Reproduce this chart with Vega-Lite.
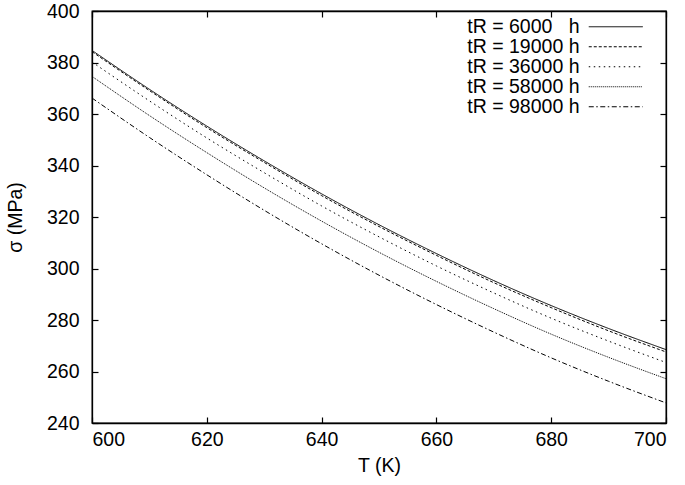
{
  "$schema": "https://vega.github.io/schema/vega-lite/v6.json",
  "width": 574,
  "height": 412,
  "autosize": {"type": "none"},
  "padding": {"left": 92, "top": 11, "right": 19, "bottom": 62},
  "background": "white",
  "config": {
    "font": "Liberation Sans",
    "view": {"stroke": "black", "strokeWidth": 1.3},
    "axis": {"grid": false, "labelFontSize": 19.5, "titleFontSize": 19.5, "labelColor": "black", "titleColor": "black", "titleFontWeight": "normal", "tickColor": "black", "domainColor": "black", "domainWidth": 1.3, "tickWidth": 1.2, "tickSize": -6}
  },
  "data": {"values": [
    {"T": 600, "sigma": 384.7, "t": "6000"}, {"T": 610, "sigma": 369.6, "t": "6000"}, {"T": 620, "sigma": 355.3, "t": "6000"}, {"T": 630, "sigma": 341.8, "t": "6000"}, {"T": 640, "sigma": 329.0, "t": "6000"}, {"T": 650, "sigma": 317.0, "t": "6000"}, {"T": 660, "sigma": 305.8, "t": "6000"}, {"T": 670, "sigma": 295.3, "t": "6000"}, {"T": 680, "sigma": 285.6, "t": "6000"}, {"T": 690, "sigma": 276.7, "t": "6000"}, {"T": 700, "sigma": 268.5, "t": "6000"},
    {"T": 600, "sigma": 384.2, "t": "19000"}, {"T": 610, "sigma": 369.1, "t": "19000"}, {"T": 620, "sigma": 354.7, "t": "19000"}, {"T": 630, "sigma": 341.2, "t": "19000"}, {"T": 640, "sigma": 328.3, "t": "19000"}, {"T": 650, "sigma": 316.3, "t": "19000"}, {"T": 660, "sigma": 305.1, "t": "19000"}, {"T": 670, "sigma": 294.5, "t": "19000"}, {"T": 680, "sigma": 284.8, "t": "19000"}, {"T": 690, "sigma": 275.8, "t": "19000"}, {"T": 700, "sigma": 267.6, "t": "19000"},
    {"T": 600, "sigma": 380.2, "t": "36000"}, {"T": 610, "sigma": 365.1, "t": "36000"}, {"T": 620, "sigma": 350.7, "t": "36000"}, {"T": 630, "sigma": 337.2, "t": "36000"}, {"T": 640, "sigma": 324.3, "t": "36000"}, {"T": 650, "sigma": 312.3, "t": "36000"}, {"T": 660, "sigma": 301.0, "t": "36000"}, {"T": 670, "sigma": 290.5, "t": "36000"}, {"T": 680, "sigma": 280.7, "t": "36000"}, {"T": 690, "sigma": 271.8, "t": "36000"}, {"T": 700, "sigma": 263.5, "t": "36000"},
    {"T": 600, "sigma": 374.6, "t": "58000"}, {"T": 610, "sigma": 359.4, "t": "58000"}, {"T": 620, "sigma": 345.0, "t": "58000"}, {"T": 630, "sigma": 331.3, "t": "58000"}, {"T": 640, "sigma": 318.4, "t": "58000"}, {"T": 650, "sigma": 306.3, "t": "58000"}, {"T": 660, "sigma": 295.0, "t": "58000"}, {"T": 670, "sigma": 284.4, "t": "58000"}, {"T": 680, "sigma": 274.5, "t": "58000"}, {"T": 690, "sigma": 265.5, "t": "58000"}, {"T": 700, "sigma": 257.2, "t": "58000"},
    {"T": 600, "sigma": 366.2, "t": "98000"}, {"T": 610, "sigma": 350.9, "t": "98000"}, {"T": 620, "sigma": 336.4, "t": "98000"}, {"T": 630, "sigma": 322.6, "t": "98000"}, {"T": 640, "sigma": 309.6, "t": "98000"}, {"T": 650, "sigma": 297.4, "t": "98000"}, {"T": 660, "sigma": 286.0, "t": "98000"}, {"T": 670, "sigma": 275.3, "t": "98000"}, {"T": 680, "sigma": 265.3, "t": "98000"}, {"T": 690, "sigma": 256.2, "t": "98000"}, {"T": 700, "sigma": 247.8, "t": "98000"}
  ]},
  "layer": [
    {
      "mark": {"type": "line", "color": "black", "strokeWidth": 1, "interpolate": "monotone"},
      "encoding": {
        "x": {"field": "T", "type": "quantitative", "scale": {"domain": [600, 700], "nice": false, "zero": false},
          "axis": {"orient": "bottom", "title": "T (K)", "values": [600, 620, 640, 660, 680, 700], "labelPadding": 13, "titlePadding": 8}},
        "y": {"field": "sigma", "type": "quantitative", "scale": {"domain": [240, 400], "nice": false, "zero": false},
          "axis": {"orient": "left", "title": "σ (MPa)", "values": [240, 260, 280, 300, 320, 340, 360, 380, 400], "labelPadding": 19, "titlePadding": 21}},
        "strokeDash": {"field": "t", "type": "nominal",
          "scale": {"domain": ["6000", "19000", "36000", "58000", "98000"], "range": [[1, 0], [3, 2], [1.5, 3.5], [1, 1], [5, 2.5, 1.5, 2.5]]},
          "legend": {"title": null, "orient": "none", "legendX": 514, "legendY": 6, "padding": 0, "symbolType": "M-3,0H3", "symbolSize": 324, "symbolStrokeColor": "black", "symbolStrokeWidth": 1, "symbolFillColor": "transparent", "labelAlign": "right", "labelOffset": -46, "labelFontSize": 19.5, "labelColor": "black", "rowPadding": -3.5,
            "labelExpr": "datum.label == '6000' ? 'tR = 6000\u00a0\u00a0 h' : 'tR = ' + datum.label + ' h'"}
        }
      }
    },
    {
      "mark": {"type": "line", "opacity": 0},
      "encoding": {
        "x": {"field": "T", "type": "quantitative", "axis": {"orient": "top", "title": null, "labels": false, "values": [600, 620, 640, 660, 680, 700]}},
        "y": {"field": "sigma", "type": "quantitative", "axis": {"orient": "right", "title": null, "labels": false, "values": [240, 260, 280, 300, 320, 340, 360, 380, 400]}},
        "detail": {"field": "t"}
      }
    }
  ],
  "resolve": {"axis": {"x": "independent", "y": "independent"}}
}
